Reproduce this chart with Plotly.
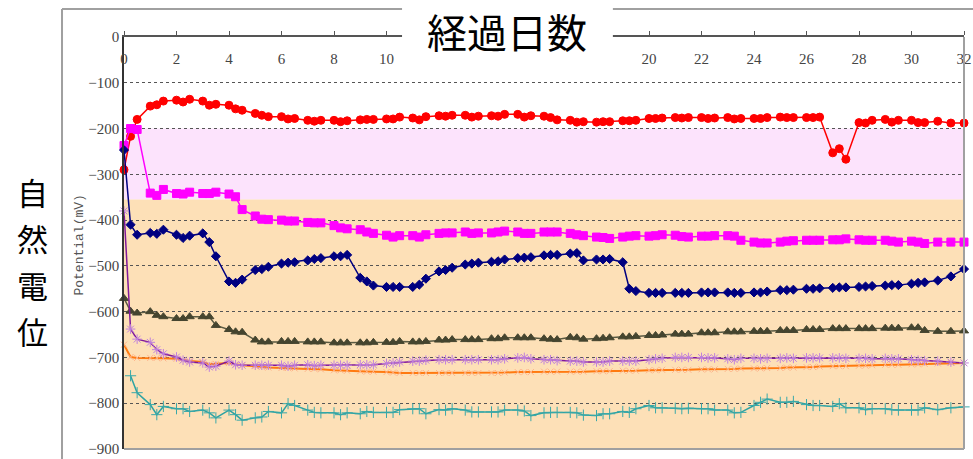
import plotly.graph_objects as go

# ---------------- data ----------------
days = [0, 0.25, 0.5, 1, 1.25, 1.5, 2, 2.25, 2.5, 3, 3.25, 3.5, 4, 4.25, 4.5, 5, 5.25, 5.5,
        6, 6.25, 6.5, 7, 7.25, 7.5, 8, 8.25, 8.5, 9, 9.25, 9.5, 10, 10.25, 10.5, 11, 11.25, 11.5,
        12, 12.25, 12.5, 13, 13.25, 13.5, 14, 14.25, 14.5, 15, 15.25, 15.5, 16, 16.25, 16.5,
        17, 17.25, 17.5, 18, 18.25, 18.5, 19, 19.25, 19.5, 20, 20.25, 20.5, 21, 21.25, 21.5,
        22, 22.25, 22.5, 23, 23.25, 23.5, 24, 24.25, 24.5, 25, 25.25, 25.5, 26, 26.25, 26.5,
        27, 27.25, 27.5, 28, 28.25, 28.5, 29, 29.25, 29.5, 30, 30.25, 30.5, 31, 31.5, 32]

red = [-290, -217, -180, -151, -148, -140, -138, -142, -136, -140, -149, -147, -149, -157, -160,
       -167, -171, -174, -174, -179, -178, -182, -184, -182, -182, -185, -183, -181, -180, -180,
       -179, -179, -175, -177, -181, -174, -172, -173, -171, -171, -175, -173, -172, -173, -169,
       -169, -175, -172, -173, -176, -181, -182, -186, -185, -186, -185, -185, -183, -183, -182,
       -178, -178, -177, -176, -177, -176, -176, -178, -177, -176, -179, -178, -178, -178, -176,
       -175, -176, -176, -176, -176, -175, -253, -244, -267, -187, -188, -182, -180, -186, -182,
       -182, -187, -187, -184, -188, -188]

magenta = [-237, -200, -202, -341, -346, -333, -342, -343, -339, -342, -342, -339, -343, -349, -377,
           -391, -398, -399, -400, -402, -402, -405, -406, -406, -412, -417, -419, -421, -426, -429,
           -433, -437, -434, -434, -437, -432, -429, -428, -428, -426, -429, -428, -428, -426, -424,
           -426, -429, -429, -426, -426, -426, -429, -432, -434, -437, -438, -440, -437, -435, -434,
           -435, -434, -432, -433, -436, -437, -435, -435, -434, -434, -435, -444, -448, -450, -450,
           -448, -446, -445, -444, -444, -444, -443, -443, -441, -443, -444, -444, -444, -446, -448,
           -446, -448, -451, -448, -448, -448]

navy = [-247, -410, -432, -428, -430, -421, -432, -439, -434, -429, -448, -479, -534, -537, -530,
        -509, -507, -502, -495, -493, -492, -488, -485, -483, -479, -479, -476, -526, -534, -543,
        -546, -546, -546, -546, -541, -528, -512, -509, -504, -497, -495, -493, -491, -490, -486,
        -483, -482, -481, -477, -476, -476, -473, -472, -488, -486, -486, -485, -492, -550, -555,
        -559, -559, -559, -559, -559, -559, -558, -558, -558, -558, -559, -559, -558, -558, -556,
        -553, -553, -552, -550, -550, -549, -548, -547, -547, -546, -545, -544, -543, -542, -542,
        -539, -537, -536, -532, -523, -507]

olive = [-571, -599, -603, -600, -608, -611, -615, -615, -611, -611, -611, -630, -639, -644, -645,
         -662, -666, -666, -665, -665, -665, -666, -666, -666, -668, -668, -668, -668, -668, -667,
         -667, -667, -665, -666, -666, -665, -662, -662, -661, -661, -661, -661, -659, -659, -657,
         -657, -657, -657, -659, -660, -661, -656, -657, -660, -659, -658, -657, -655, -655, -654,
         -652, -652, -651, -649, -649, -649, -646, -646, -646, -644, -644, -644, -643, -643, -643,
         -641, -641, -641, -639, -639, -639, -637, -637, -637, -637, -637, -637, -636, -636, -636,
         -635, -635, -641, -643, -643, -642]

purple = [-380, -638, -660, -667, -683, -692, -699, -706, -710, -712, -721, -719, -708, -716, -717,
          -717, -717, -717, -717, -719, -717, -716, -718, -717, -717, -717, -717, -716, -716, -716,
          -713, -712, -710, -708, -708, -706, -705, -705, -705, -705, -705, -705, -705, -705, -703,
          -701, -700, -703, -705, -705, -707, -708, -708, -710, -710, -710, -708, -708, -708, -708,
          -705, -703, -702, -700, -700, -700, -700, -701, -701, -703, -705, -702, -702, -703, -702,
          -702, -701, -702, -701, -701, -701, -701, -701, -702, -702, -702, -703, -702, -703, -703,
          -705, -706, -707, -708, -710, -712]

orange = [-672, -699, -701, -701, -701, -702, -703, -706, -708, -710, -715, -714, -712, -715, -717,
          -719, -721, -722, -723, -723, -724, -725, -725, -726, -728, -728, -729, -730, -731, -731,
          -732, -733, -734, -734, -734, -734, -734, -734, -734, -734, -734, -734, -734, -734, -733,
          -732, -732, -732, -731, -731, -731, -731, -731, -731, -730, -730, -730, -729, -729, -729,
          -728, -728, -727, -727, -727, -727, -726, -726, -726, -725, -725, -724, -724, -724, -723,
          -723, -722, -722, -721, -721, -720, -719, -719, -719, -718, -718, -717, -716, -716, -716,
          -715, -715, -714, -713, -712, -712]

teal = [None, -740, -777, -803, -825, -807, -812, -812, -818, -815, -821, -832, -815, -825, -837,
        -832, -830, -818, -821, -801, -805, -815, -820, -821, -821, -825, -821, -823, -818, -820,
        -820, -820, -814, -812, -812, -823, -814, -815, -812, -815, -819, -819, -819, -819, -815,
        -815, -817, -827, -821, -820, -820, -820, -821, -826, -827, -823, -823, -818, -820, -812,
        -805, -810, -810, -811, -812, -811, -812, -812, -815, -815, -821, -820, -805, -798, -791,
        -798, -798, -796, -803, -805, -805, -807, -801, -810, -810, -814, -812, -812, -814, -815,
        -815, -815, -810, -814, -810, -808]

# background bands (potential ranges)
band_edges = [-200, -355, -900]
band_colors = ["#FCE3FC", "#FDE0B7"]

x_ticks = [0, 2, 4, 6, 8, 10, 12, 14, 16, 18, 20, 22, 24, 26, 28, 30, 32]
# labels 12-18 are hidden behind the title box in the reference
x_ticktext = ["0", "2", "4", "6", "8", "10", "", "", "", "", "20", "22", "24", "26", "28", "30", "32"]
y_ticks = [-900, -800, -700, -600, -500, -400, -300, -200, -100, 0]
y_ticktext = ["\u2212900", "\u2212800", "\u2212700", "\u2212600", "\u2212500",
              "\u2212400", "\u2212300", "\u2212200", "\u2212100", "0"]

title_text = "経過日数"
ylabel_chars = ["自", "然", "電", "位"]
axis_label = "Potential(mV)"

# ---------------- figure ----------------
fig = go.Figure()

series = [
    (red, "#FF0000", "#FF0000", "circle", 8, 1.5),
    (magenta, "#FF00FF", "#FF00FF", "square", 8, 1.5),
    (navy, "#000080", "#000080", "diamond", 7, 1.5),
    (olive, "#5A5A42", "#45452F", "triangle-up", 8, 1.5),
    (orange, "#FF7A10", "#FFB48A", "x-thin-open", 6, 2),
    (purple, "#80189A", "#C080DC", "asterisk-open", 8, 1.5),
    (teal, "#2EA3A3", "#3AA8A8", "cross-thin-open", 8, 1.5),
]
for vals, lc, mc, sym, ms, lw in series:
    fig.add_trace(go.Scatter(
        x=days, y=vals, mode="lines+markers",
        line=dict(color=lc, width=lw),
        marker=dict(symbol=sym, size=ms, color=mc, line=dict(color=mc, width=1)),
        connectgaps=True, showlegend=False, hoverinfo="skip", cliponaxis=False))

shapes = []
for i in range(len(band_colors)):
    shapes.append(dict(type="rect", xref="paper", yref="y", x0=0, x1=1,
                       y0=band_edges[i + 1], y1=band_edges[i],
                       fillcolor=band_colors[i], line=dict(width=0), layer="below"))
# right & bottom frame of plot area
shapes.append(dict(type="line", xref="paper", yref="paper", x0=1, x1=1, y0=0, y1=1,
                   line=dict(color="#A0A0A0", width=2), layer="above"))
shapes.append(dict(type="line", xref="paper", yref="paper", x0=0, x1=1, y0=0, y1=0,
                   line=dict(color="#A0A0A0", width=2), layer="above"))
# outer chart frame (left and top)
shapes.append(dict(type="line", xref="paper", yref="paper", x0=-0.0738, x1=-0.0738, y0=-0.05, y1=1.068,
                   line=dict(color="#A0A0A0", width=2), layer="above"))
shapes.append(dict(type="line", xref="paper", yref="paper", x0=-0.0738, x1=1.02, y0=1.068, y1=1.068,
                   line=dict(color="#A0A0A0", width=2), layer="above"))
# white box behind the title
shapes.append(dict(type="rect", xref="paper", yref="paper", x0=0.331, x1=0.582, y0=0.925, y1=1.1,
                   fillcolor="white", line=dict(width=0), layer="above"))

annotations = [
    dict(text=title_text, xref="paper", yref="paper", x=0.4565, y=1.015, showarrow=False,
         font=dict(family="Noto Sans CJK JP", size=40, color="black"), xanchor="center", yanchor="middle"),
    dict(text=axis_label, xref="paper", yref="paper", x=-0.053, y=0.495, showarrow=False,
         textangle=-90, font=dict(family="Liberation Mono", size=13, color="#555555"),
         xanchor="center", yanchor="middle"),
]
char_y = [0.626, 0.513, 0.400, 0.288]
for ch, yy in zip(ylabel_chars, char_y):
    annotations.append(dict(text=ch, xref="paper", yref="paper", x=-0.109, y=yy, showarrow=False,
                            borderpad=0,
                            font=dict(family="Noto Sans CJK JP", size=31, color="black"),
                            xanchor="center", yanchor="middle"))

fig.update_layout(
    width=973, height=459,
    margin=dict(l=124, r=9, t=37, b=10, autoexpand=False),
    paper_bgcolor="white", plot_bgcolor="white",
    shapes=shapes, annotations=annotations,
    xaxis=dict(range=[0, 32], side="top", tickvals=x_ticks, ticktext=x_ticktext,
               ticks="outside", ticklen=4, automargin=False,
               tickcolor="#555555", ticklabelposition="inside", ticklabeloverflow="allow",
               ticklabelstandoff=17,
               showline=True, linecolor="#555555", linewidth=1.5, showgrid=False, zeroline=False,
               tickfont=dict(family="Liberation Serif", size=15, color="#444444")),
    yaxis=dict(range=[-900, 0], tickvals=y_ticks, ticktext=y_ticktext, ticks="", automargin=False,
               showline=True, linecolor="#333333", linewidth=1.5,
               showgrid=True, gridcolor="#555555", griddash="dot", gridwidth=1, zeroline=False,
               tickfont=dict(family="Liberation Serif", size=15, color="#444444")),
)

fig.write_html("out.html", config={"displayModeBar": False},
               post_script="document.body.style.margin='0px';document.body.style.overflow='hidden';")
